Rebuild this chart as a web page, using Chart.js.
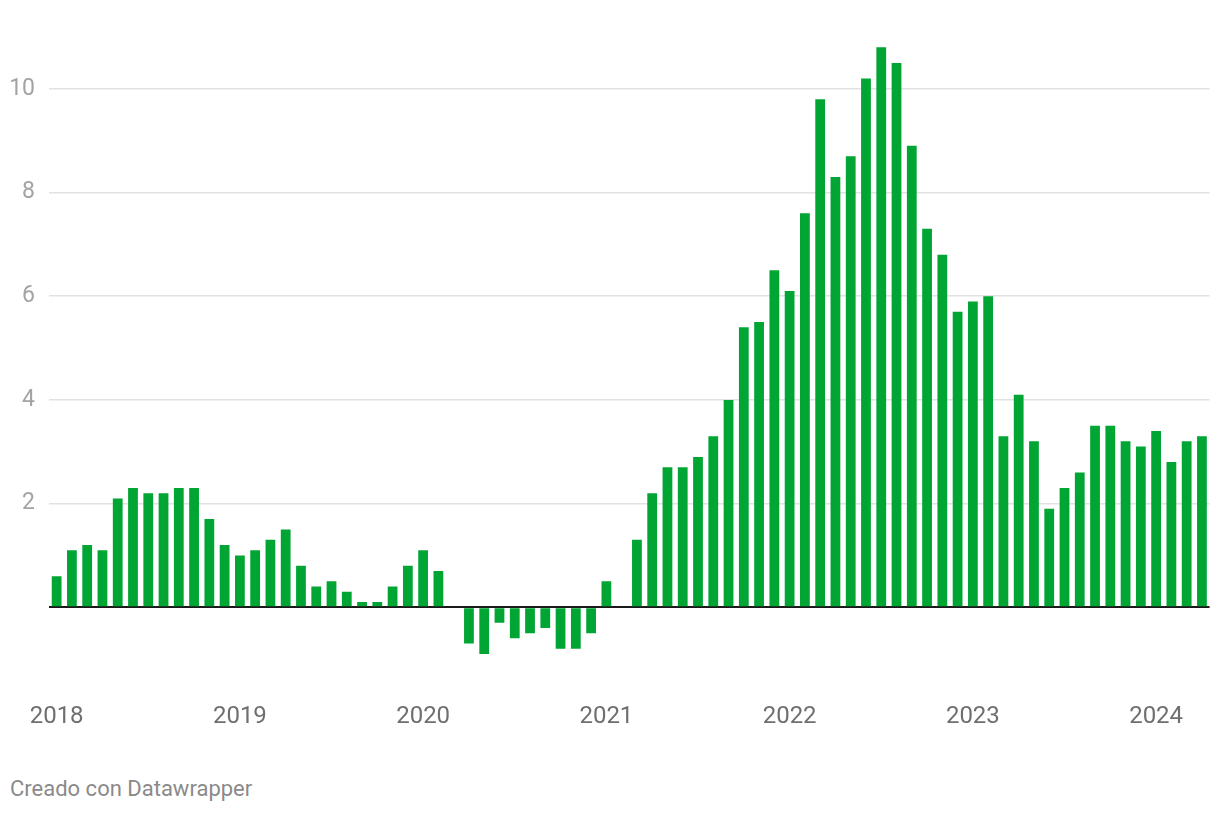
<!DOCTYPE html>
<html>
<head>
<meta charset="utf-8">
<script src="https://cdn.jsdelivr.net/npm/chart.js@4/dist/chart.umd.min.js"></script>
<style>
  html, body { margin: 0; padding: 0; background: #fff; }
  #wrap { position: relative; width: 1220px; height: 740px; }
  #footer { position: absolute; left: 10px; top: 776px; font-family: Roboto, sans-serif; font-size: 22px; color: #8a8a8a; }
</style>
</head>
<body>
<div id="wrap"><canvas id="c"></canvas></div>
<div id="footer">Creado con Datawrapper</div>
<script>
// Monthly categories Jan 2018 .. Apr 2024
const years = [2018, 2019, 2020, 2021, 2022, 2023, 2024];
const months = [];
years.forEach(y => { for (let m = 1; m <= 12; m++) { if (y === 2024 && m > 4) break; months.push(y + '-' + String(m).padStart(2, '0')); } });

const values2018 = [0.6, 1.1, 1.2, 1.1, 2.1, 2.3, 2.2, 2.2, 2.3, 2.3, 1.7, 1.2];
const values2019 = [1.0, 1.1, 1.3, 1.5, 0.8, 0.4, 0.5, 0.3, 0.1, 0.1, 0.4, 0.8];
const values2020 = [1.1, 0.7, 0.0, -0.7, -0.9, -0.3, -0.6, -0.5, -0.4, -0.8, -0.8, -0.5];
const values2021 = [0.5, 0.0, 1.3, 2.2, 2.7, 2.7, 2.9, 3.3, 4.0, 5.4, 5.5, 6.5];
const values2022 = [6.1, 7.6, 9.8, 8.3, 8.7, 10.2, 10.8, 10.5, 8.9, 7.3, 6.8, 5.7];
const values2023 = [5.9, 6.0, 3.3, 4.1, 3.2, 1.9, 2.3, 2.6, 3.5, 3.5, 3.2, 3.1];
const values2024 = [3.4, 2.8, 3.2, 3.3];
const values = [].concat(values2018, values2019, values2020, values2021, values2022, values2023, values2024);

const yTicks = [0, 2, 4, 6, 8, 10];
const yearLabels = ['2018', '2019', '2020', '2021', '2022', '2023', '2024'];

new Chart(document.getElementById('c'), {
  type: 'bar',
  data: {
    labels: months,
    datasets: [{
      data: values,
      backgroundColor: '#00a533',
      borderWidth: 0,
      categoryPercentage: 1.0,
      barPercentage: 0.64
    }]
  },
  options: {
    responsive: true,
    maintainAspectRatio: false,
    animation: false,
    layout: { padding: { top: 37, right: 10, bottom: 0, left: 0 } },
    plugins: { legend: { display: false }, tooltip: { enabled: false } },
    scales: {
      x: {
        type: 'category',
        offset: true,
        grid: { display: false, drawTicks: false },
        border: { display: false },
        afterFit: s => { s.height = 55; },
        ticks: {
          autoSkip: false,
          maxRotation: 0,
          padding: 18,
          color: '#6f6f6f',
          font: { family: 'Roboto', size: 24 },
          callback: function (v, i) { return i % 12 === 0 ? yearLabels[i / 12] : ''; }
        }
      },
      y: {
        min: -1.5,
        max: 11,
        afterBuildTicks: s => { s.ticks = yTicks.map(v => ({ value: v })); },
        afterFit: s => { s.width = 49; },
        border: { display: false },
        grid: {
          drawTicks: false,
          color: ctx => ctx.tick && ctx.tick.value === 0 ? '#1a1a1a' : '#e2e2e2',
          lineWidth: ctx => ctx.tick && ctx.tick.value === 0 ? 2 : 1.5
        },
        ticks: {
          padding: 14,
          color: '#a3a3a3',
          font: { family: 'Roboto', size: 23 },
          callback: v => v === 0 ? '' : String(v)
        }
      }
    }
  }
});
</script>
</body>
</html>
